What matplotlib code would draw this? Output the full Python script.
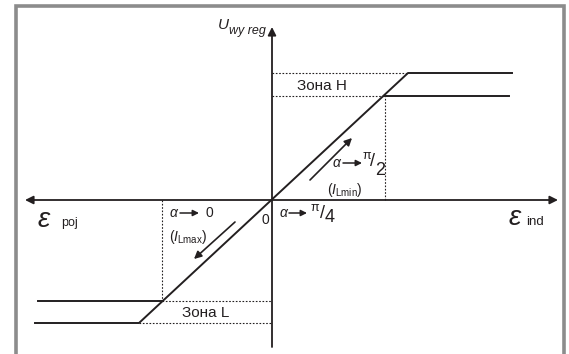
import matplotlib.pyplot as plt

plt.rcParams['font.family'] = ['Liberation Sans', 'DejaVu Sans']
plt.rcParams['mathtext.fontset'] = 'custom'
plt.rcParams['mathtext.rm'] = 'Liberation Sans'
plt.rcParams['mathtext.it'] = 'Liberation Sans:italic'

# characteristic: outer (saturation) and inner breakpoints, eps vs U_wy reg
eps_outer = [-23.7, -13.3, 13.6, 24.0]
u_outer = [-12.3, -12.3, 12.7, 12.7]
eps_lmax = [-23.4, -11.0]
u_lmax = [-10.1, -10.1]
eps_lmin = [11.3, 23.7]
u_lmin = [10.4, 10.4]

ink = '#231f20'

fig = plt.figure(figsize=(5.69, 3.54), dpi=100)
ax = fig.add_axes([0, 0, 1, 1])
ax.set_xlim(-27.2, 29.7)
ax.set_ylim(-15.4, 20.0)
ax.axis('off')

# grey frame (open at the bottom)
ax.plot([0.028, 0.028, 0.991, 0.991], [0.0, 0.983, 0.983, 0.0],
        color='#8c8c8c', lw=2.6, transform=ax.transAxes, solid_joinstyle='miter')

# axes with arrows
ax.annotate('', xy=(-24.7, 0), xytext=(28.6, 0),
            arrowprops=dict(arrowstyle='<|-|>', color=ink, lw=1.3,
                            mutation_scale=12, shrinkA=0, shrinkB=0))
ax.annotate('', xy=(0, 17.3), xytext=(0, -14.7),
            arrowprops=dict(arrowstyle='-|>', color=ink, lw=1.3,
                            mutation_scale=12, shrinkA=0, shrinkB=0))

# characteristic lines
ax.plot(eps_outer, u_outer, color=ink, lw=1.4)
ax.plot(eps_lmax, u_lmax, color=ink, lw=1.4)
ax.plot(eps_lmin, u_lmin, color=ink, lw=1.4)

# dotted helper lines
dot = dict(color=ink, lw=0.8, ls=(0, (1.5, 1.5)))
ax.plot([0, eps_outer[2]], [u_outer[2], u_outer[2]], **dot)
ax.plot([0, eps_lmin[0]], [u_lmin[0], u_lmin[0]], **dot)
ax.plot([eps_lmin[0], eps_lmin[0]], [0, u_lmin[0]], **dot)
ax.plot([eps_outer[1], 0], [u_outer[1], u_outer[1]], **dot)
ax.plot([eps_lmax[1], 0], [u_lmax[1], u_lmax[1]], **dot)
ax.plot([eps_lmax[1], eps_lmax[1]], [0, u_lmax[1]], **dot)

# direction arrows along the line
ax.annotate('', xy=(8.0, 6.2), xytext=(3.8, 2.0),
            arrowprops=dict(arrowstyle='-|>', color=ink, lw=1.2,
                            mutation_scale=11, shrinkA=0, shrinkB=0))
ax.annotate('', xy=(-7.8, -5.9), xytext=(-3.7, -2.2),
            arrowprops=dict(arrowstyle='-|>', color=ink, lw=1.2,
                            mutation_scale=11, shrinkA=0, shrinkB=0))

# small arrows inside the alpha labels
for x0, x1, y in [(-9.2, -7.3, -1.3), (1.7, 3.5, -1.3), (7.1, 9.0, 3.7)]:
    ax.annotate('', xy=(x1, y), xytext=(x0, y),
                arrowprops=dict(arrowstyle='-|>', color=ink, lw=1.1,
                                mutation_scale=9, shrinkA=0, shrinkB=0))

# texts
ax.text(-4.9, 17.5, 'U', ha='center', va='center', fontsize=11,
        style='italic', color=ink)
ax.text(-4.3, 16.9, 'wy reg', ha='left', va='center', fontsize=9,
        style='italic', color=ink)
ax.text(5.0, 11.4, 'Зона H', ha='center', va='center', fontsize=11, color=ink)
ax.text(-6.6, -11.3, 'Зона L', ha='center', va='center', fontsize=11, color=ink)

ax.text(-22.8, -2.0, 'ε', ha='center', va='center', fontsize=20,
        style='italic', color=ink)
ax.text(-21.1, -2.3, 'poj', ha='left', va='center', fontsize=9, color=ink)
ax.text(24.3, -1.8, 'ε', ha='center', va='center', fontsize=20,
        style='italic', color=ink)
ax.text(25.4, -2.2, 'ind', ha='left', va='center', fontsize=9.5, color=ink)

ax.text(-0.7, -2.0, '0', ha='center', va='center', fontsize=10, color=ink)

ax.text(-9.9, -1.3, 'α', ha='center', va='center', fontsize=10,
        style='italic', color=ink)
ax.text(-6.3, -1.3, '0', ha='center', va='center', fontsize=10, color=ink)
ax.text(-8.4, -3.7, r'$(\mathit{I}_{\mathrm{Lmax}})$', ha='center', va='center',
        fontsize=10, color=ink)

ax.text(1.1, -1.3, 'α', ha='center', va='center', fontsize=10,
        style='italic', color=ink)
ax.text(4.25, -0.8, 'π', ha='center', va='center', fontsize=9, color=ink)
ax.text(5.0, -1.35, '/', ha='center', va='center', fontsize=13, color=ink)
ax.text(5.75, -1.75, '4', ha='center', va='center', fontsize=13, color=ink)

ax.text(6.4, 3.7, 'α', ha='center', va='center', fontsize=10,
        style='italic', color=ink)
ax.text(9.45, 4.4, 'π', ha='center', va='center', fontsize=9, color=ink)
ax.text(10.1, 3.9, '/', ha='center', va='center', fontsize=13, color=ink)
ax.text(10.8, 2.95, '2', ha='center', va='center', fontsize=13, color=ink)
ax.text(7.25, 1.0, r'$(\mathit{I}_{\mathrm{Lmin}})$', ha='center', va='center',
        fontsize=10, color=ink)

fig.savefig('out.png', dpi=100)
